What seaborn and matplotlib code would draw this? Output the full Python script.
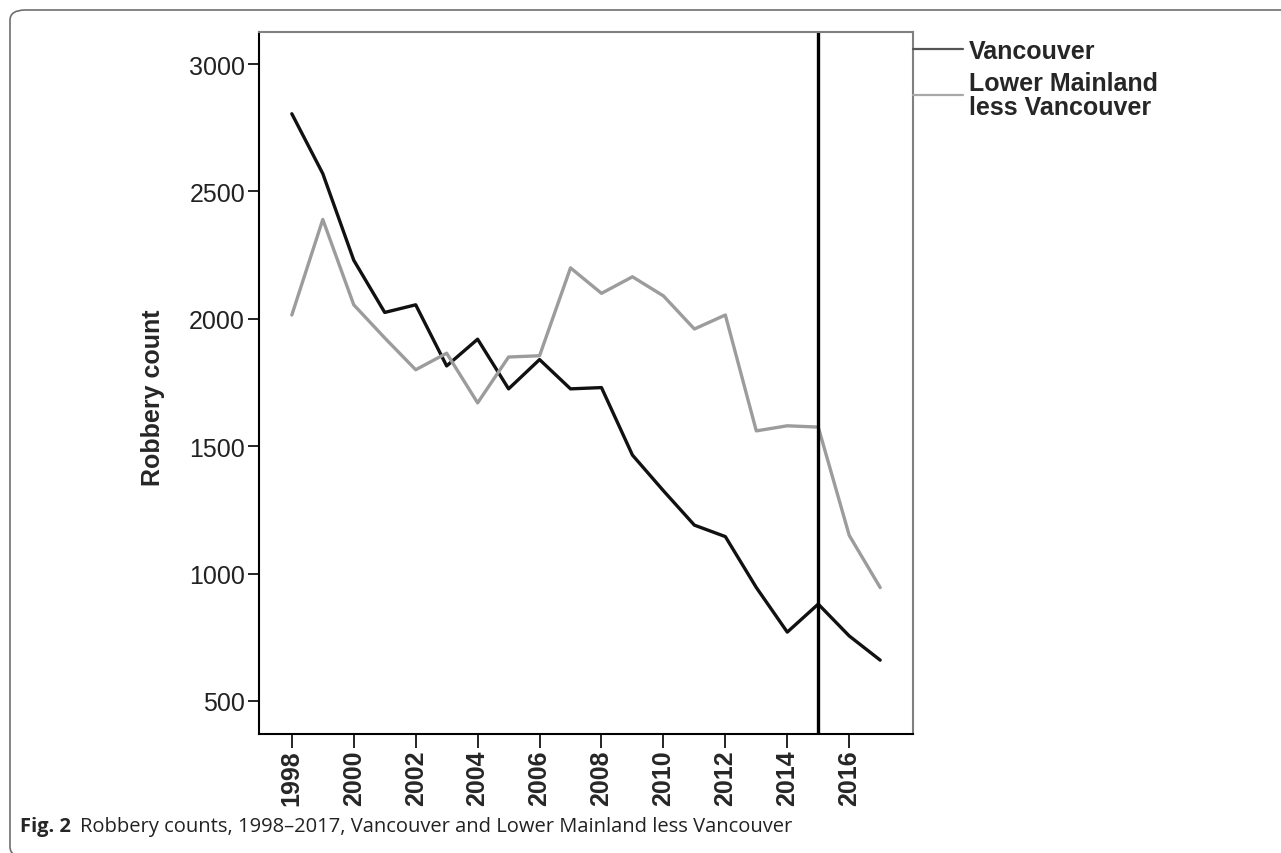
import matplotlib
matplotlib.use("Agg")
import matplotlib.pyplot as plt
from matplotlib.lines import Line2D
from matplotlib.patches import FancyBboxPatch
import seaborn as sns
import pandas as pd

# Robbery counts
years = list(range(1998, 2018))
vancouver = [2805, 2570, 2230, 2025, 2055, 1815, 1920, 1725, 1840, 1725,
             1730, 1465, 1325, 1190, 1145, 945, 770, 880, 755, 660]
lower_mainland = [2015, 2390, 2055, 1925, 1800, 1865, 1670, 1850, 1855, 2200,
                  2100, 2165, 2090, 1960, 2015, 1560, 1580, 1575, 1150, 945]
series_names = ["Vancouver", "Lower Mainland less Vancouver"]
legend_labels = ["Vancouver", "Lower Mainland\nless Vancouver"]
xticks = list(range(1998, 2017, 2))
yticks = [500, 1000, 1500, 2000, 2500, 3000]
policy_year = 2015
caption_bold = "Fig. 2"
caption_text = "Robbery counts, 1998\u20132017, Vancouver and Lower Mainland less Vancouver"

df = pd.DataFrame({
    "Year": years * 2,
    "Count": vancouver + lower_mainland,
    "Region": [series_names[0]] * len(years) + [series_names[1]] * len(years),
})

sns.set_theme(style="white")
plt.rcParams['font.family'] = ['Liberation Sans', 'DejaVu Sans']

W, H = 1281, 854
fig = plt.figure(figsize=(W / 100, H / 100), dpi=100)
ax = fig.add_axes([259 / W, 1 - 735 / H, (913 - 259) / W, (735 - 33) / H])

palette = {series_names[0]: "#111111", series_names[1]: "#9c9c9c"}
sns.lineplot(data=df, x="Year", y="Count", hue="Region", palette=palette,
             linewidth=2.4, legend=False, ax=ax)
ax.axvline(policy_year, color="black", linewidth=2.4)

ax.set_xlim(1996.94, 2018.06)
ax.set_ylim(370, 3126)
ax.set_xticks(xticks)
ax.set_xticklabels([str(x) for x in xticks], rotation=90, fontsize=18, fontweight="bold")
ax.set_yticks(yticks)
ax.set_yticklabels([str(y) for y in yticks], fontsize=18, color="#222222")
ax.tick_params(axis="y", direction="out", length=8, width=1.2, color="black", pad=2, left=True)
ax.tick_params(axis="x", direction="out", length=10, width=1.2, color="black", pad=1, bottom=True)
ax.set_xlabel("")
ax.set_ylabel("Robbery count", fontsize=18, fontweight="bold")
ax.yaxis.set_label_coords(-0.1437, 0.48)

for side in ["left", "bottom"]:
    ax.spines[side].set_color("black")
    ax.spines[side].set_linewidth(1.5)
for side in ["top", "right"]:
    ax.spines[side].set_color("#808080")
    ax.spines[side].set_linewidth(1.5)

# legend hanging off the right edge of the box
handles = [Line2D([], [], color="#555555", lw=1.6),
           Line2D([], [], color="#a8a8a8", lw=1.6)]
leg = ax.legend(handles, legend_labels, loc="upper left", bbox_to_anchor=(1.0, 0.99),
                frameon=False, handlelength=2.0, handletextpad=0.25,
                borderaxespad=0, borderpad=0, labelspacing=0.3,
                prop={"size": 18, "weight": "bold"})
for t in leg.get_texts():
    t.set_linespacing(1.0)

# rounded frame around the whole figure
frame = FancyBboxPatch((10 / W, -4 / H), 1.2, 1 - 7 / H, boxstyle="round,pad=0,rounding_size=0.012",
                       transform=fig.transFigure, fill=False, edgecolor="#6e6e6e",
                       linewidth=1.2, clip_on=True)
fig.patches.append(frame)

t1 = fig.text(20 / W, 1 - 832 / H, caption_bold, fontsize=14.5, fontweight="bold",
              family=["Open Sans", "DejaVu Sans"], va="baseline")
fig.canvas.draw()
bb = t1.get_window_extent()
fig.text((bb.x1 + 9) / W, 1 - 832 / H, caption_text, fontsize=14.5,
         family=["Open Sans", "DejaVu Sans"], va="baseline", color="#222222")

fig.savefig("out.png", dpi=100)
